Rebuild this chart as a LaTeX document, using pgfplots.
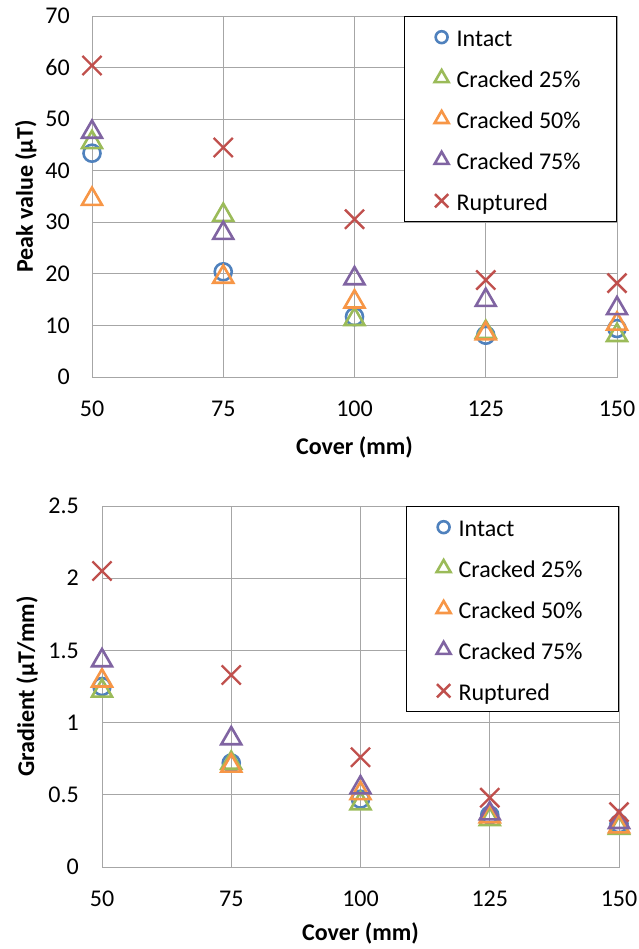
\documentclass[border=0pt]{standalone}
\usepackage{fontspec}
\setmainfont{Carlito}
\usepackage{pgfplots}
\pgfplotsset{compat=1.18}
\definecolor{cBlue}{HTML}{4F81BD}
\definecolor{cGreen}{HTML}{9BBB59}
\definecolor{cOrange}{HTML}{F79646}
\definecolor{cPurple}{HTML}{8064A2}
\definecolor{cRed}{HTML}{C0504D}
\definecolor{gridgray}{HTML}{A6A6A6}
\newcommand{\lent}[1]{\makebox[160pt][l]{\rule[-4.6pt]{0pt}{24.6pt}#1}}
\pgfplotsset{
  exstyle/.style={
    scale only axis,
    xmin=50, xmax=150,
    xtick={50,75,100,125,150},
    grid=major,
    major grid style={draw=gridgray, line width=0.8pt},
    axis line style={draw=gridgray, line width=0.8pt},
    major tick length=0pt,
    tick style={draw=none},
    ticklabel style={font=\fontsize{24}{29}\selectfont},
    /pgf/number format/assume math mode=true,
    xticklabel style={anchor=center, inner sep=0pt, yshift=-32pt},
    yticklabel style={anchor=east, inner sep=0pt, xshift=-22pt},
    label style={font=\fontsize{24}{29}\selectfont\bfseries},
    legend cell align=left,
    legend style={at={(1,1)}, anchor=north east, draw=black, line width=0.8pt, fill=white,
       inner xsep=0pt, inner ysep=10pt, row sep=19.4pt, column sep=8pt,
       font=\fontsize{24}{29}\selectfont,
       nodes={inner sep=0pt}},
    legend image code/.code={
      \path[draw=none] (-31pt,0pt) (12pt,0pt);
      \draw[/tikz/every mark/.append style={scale=0.7}]
        plot coordinates {(6pt,0pt)};
    },
  },
  sIntact/.style={only marks, mark=o, mark size=8.5pt, draw=cBlue, line width=2.6pt},
  sC25/.style={only marks, mark=triangle, mark size=11.5pt, draw=cGreen, line width=2.6pt},
  sC50/.style={only marks, mark=triangle, mark size=11.5pt, draw=cOrange, line width=2.6pt},
  sC75/.style={only marks, mark=triangle, mark size=11.5pt, draw=cPurple, line width=2.6pt},
  sRup/.style={only marks, mark=x, mark size=13.5pt, draw=cRed, line width=2.4pt},
}
\begin{document}
\begin{tikzpicture}
\useasboundingbox (0pt,0pt) rectangle (638pt,-949pt);
\begin{axis}[exstyle,
  at={(92pt,-377pt)}, anchor=south west,
  width=525pt, height=361pt,
  ymin=0, ymax=70, ytick={0,10,20,30,40,50,60,70},
  xlabel={Cover (mm)}, ylabel={Peak value (\textmu T)},
  xlabel style={at={(axis description cs:0.5,-0.194)}, anchor=center},
  ylabel style={at={(axis description cs:-0.126,0.5)}, anchor=center},
]
\addplot[sIntact] coordinates {(50,43.4) (75,20.4) (100,11.7) (125,8.1) (150,9.4)};
\addlegendentry{\lent{Intact}}
\addplot[sC25] coordinates {(50,45.5) (75,31.4) (100,11.2) (125,8.7) (150,8.1)};
\addlegendentry{\lent{Cracked 25\%}}
\addplot[sC50] coordinates {(50,34.5) (75,19.4) (100,14.6) (125,8.4) (150,10.3)};
\addlegendentry{\lent{Cracked 50\%}}
\addplot[sC75] coordinates {(50,47.5) (75,27.9) (100,19.1) (125,14.9) (150,13.3)};
\addlegendentry{\lent{Cracked 75\%}}
\addplot[sRup] coordinates {(50,60.4) (75,44.5) (100,30.6) (125,18.8) (150,18.2)};
\addlegendentry{\lent{Ruptured}}
\end{axis}
\begin{axis}[exstyle,
  at={(102pt,-867pt)}, anchor=south west,
  width=517pt, height=361pt,
  ymin=0, ymax=2.5, ytick={0,0.5,1,1.5,2,2.5},
  yticklabel style={xshift=-1pt},
  xlabel={Cover (mm)}, ylabel={Gradient (\textmu T/mm)},
  xlabel style={at={(axis description cs:0.5,-0.184)}, anchor=center},
  ylabel style={at={(axis description cs:-0.145,0.5)}, anchor=center},
]
\addplot[sIntact] coordinates {(50,1.25) (75,0.72) (100,0.47) (125,0.36) (150,0.30)};
\addlegendentry{\lent{Intact}}
\addplot[sC25] coordinates {(50,1.22) (75,0.72) (100,0.44) (125,0.33) (150,0.27)};
\addlegendentry{\lent{Cracked 25\%}}
\addplot[sC50] coordinates {(50,1.29) (75,0.70) (100,0.51) (125,0.35) (150,0.28)};
\addlegendentry{\lent{Cracked 50\%}}
\addplot[sC75] coordinates {(50,1.43) (75,0.89) (100,0.55) (125,0.37) (150,0.31)};
\addlegendentry{\lent{Cracked 75\%}}
\addplot[sRup] coordinates {(50,2.05) (75,1.33) (100,0.76) (125,0.48) (150,0.38)};
\addlegendentry{\lent{Ruptured}}
\end{axis}
\end{tikzpicture}
\end{document}
